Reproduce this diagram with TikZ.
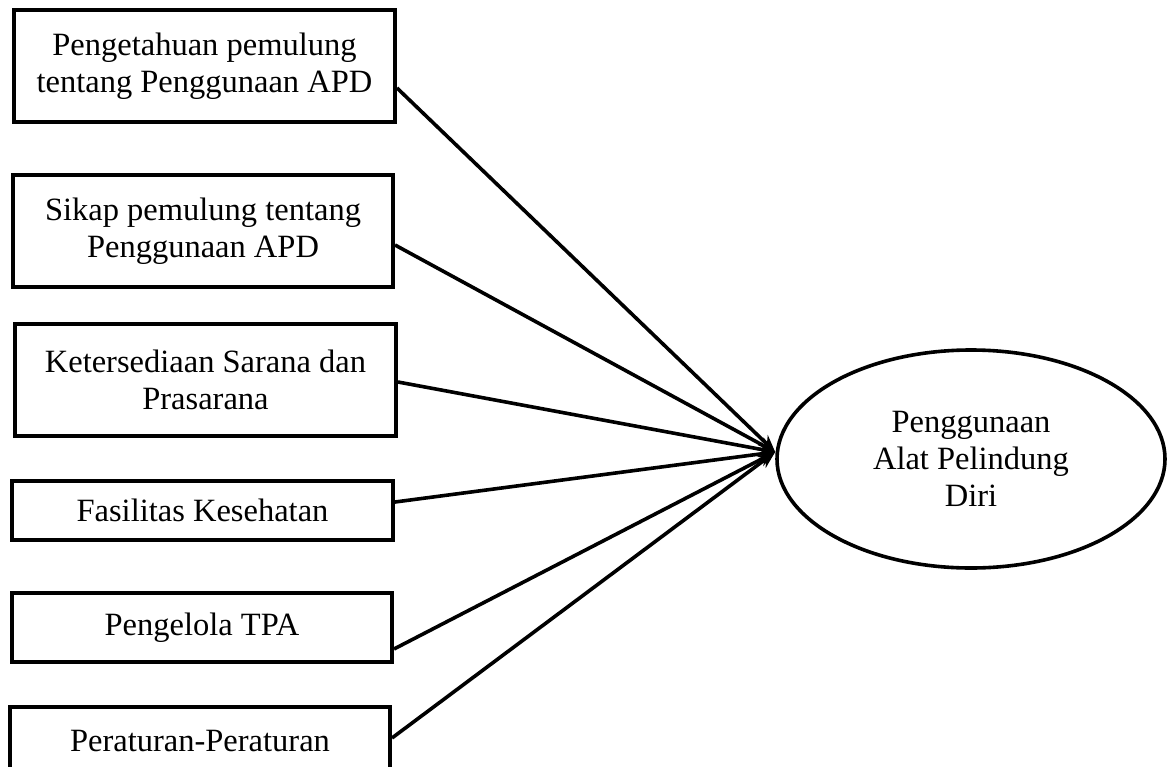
\documentclass[tikz,border=0pt]{standalone}
\usepackage{fontspec}
\setmainfont{Liberation Serif}
\usetikzlibrary{arrows.meta,shapes.geometric,calc}
\tikzset{
  factor/.style={draw, line width=4pt, rectangle, align=center, inner sep=0pt,
    font=\fontsize{32.5}{37}\selectfont},
  outcome/.style={draw, line width=3.6pt, ellipse, align=center, inner sep=0pt,
    font=\fontsize{32.5}{37}\selectfont},
  link/.style={line width=3.6pt, -{Stealth[length=17pt,width=14pt]}}
}
\begin{document}
\begin{tikzpicture}[x=1pt,y=-1pt]
\clip (0,0) rectangle (1173,766);
\useasboundingbox (0,0) rectangle (1173,766);
\node[factor, minimum width=381pt, minimum height=112pt] (b1) at (204.5,66) {Pengetahuan pemulung\\tentang Penggunaan APD};
\node[factor, minimum width=380pt, minimum height=112pt] (b2) at (203,231) {Sikap pemulung tentang\\Penggunaan APD};
\node[factor, minimum width=381pt, minimum height=112pt] (b3) at (205.5,380) {Ketersediaan Sarana dan\\Prasarana};
\node[factor, minimum width=381pt, minimum height=59pt] (b4) at (202.5,510.5) {Fasilitas Kesehatan};
\node[factor, minimum width=380pt, minimum height=69pt] (b5) at (202,627.5) {Pengelola TPA};
\node[factor, minimum width=380pt, minimum height=69pt] (b6) at (200,741.5) {Peraturan-Peraturan};
\node[outcome, minimum width=388pt, minimum height=218pt] (e) at (971,459) {Penggunaan\\Alat Pelindung\\Diri};
\coordinate (tip) at ([yshift=7pt]e.west);
\draw[link] ([yshift=-22pt]b1.east) -- (tip);
\draw[link] ([yshift=-14pt]b2.east) -- (tip);
\draw[link] ([yshift=-2pt]b3.east) -- (tip);
\draw[link] ([yshift=8.5pt]b4.east) -- (tip);
\draw[link] ([yshift=-21.5pt]b5.east) -- (tip);
\draw[link] ([yshift=3.5pt]b6.east) -- (tip);
\end{tikzpicture}
\end{document}
